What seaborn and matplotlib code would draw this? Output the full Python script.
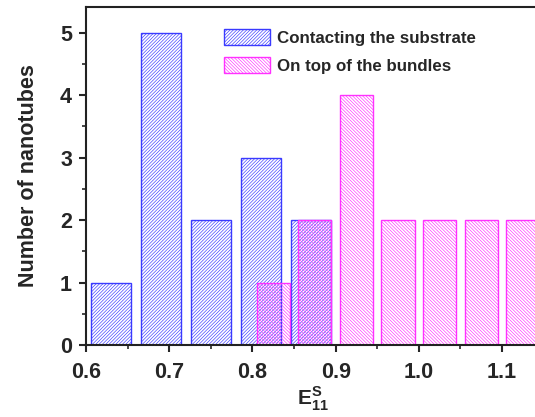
import matplotlib
matplotlib.use('Agg')
import matplotlib.pyplot as plt
import seaborn as sns
import numpy as np
from matplotlib.patches import Patch
from matplotlib.ticker import MultipleLocator

# data
substrate_e = [0.63, 0.69, 0.75, 0.81, 0.87]
substrate_n = [1, 5, 2, 3, 2]
bundle_e = [0.825, 0.875, 0.925, 0.975, 1.025, 1.075, 1.125]
bundle_n = [1, 2, 4, 2, 2, 2, 2]

blue = '#3a3aff'
magenta = '#ff30ff'
hatch_b = '/' * 10
hatch_m = '\\' * 10

sns.set_style('ticks')
plt.rcParams['font.family'] = ['Liberation Sans', 'DejaVu Sans']
plt.rcParams['font.weight'] = 'bold'
plt.rcParams['mathtext.fontset'] = 'custom'
plt.rcParams['mathtext.bf'] = 'Liberation Sans:bold'
plt.rcParams['mathtext.rm'] = 'Liberation Sans:bold'
plt.rcParams['hatch.linewidth'] = 0.45

fig = plt.figure(figsize=(5.35, 4.17), dpi=100)
ax = fig.add_axes([86 / 535, 72 / 417, 1.0 - 86 / 535 + 0.01, 338 / 417])

sns.barplot(x=substrate_e, y=substrate_n, native_scale=True, width=0.8,
            errorbar=None, ax=ax)
n_first = len(ax.patches)
sns.barplot(x=bundle_e, y=bundle_n, native_scale=True, width=0.8,
            errorbar=None, ax=ax)

for i, p in enumerate(ax.patches):
    c = blue if i < n_first else magenta
    p.set_facecolor('none')
    p.set_edgecolor(c)
    p.set_linewidth(1.0)
    p.set_hatch(hatch_b if i < n_first else hatch_m)

ax.set_xlim(0.6, 1.146)
ax.set_ylim(0, 5.41)
ax.xaxis.set_major_locator(MultipleLocator(0.1))
ax.xaxis.set_minor_locator(MultipleLocator(0.05))
ax.yaxis.set_major_locator(MultipleLocator(1))
ax.yaxis.set_minor_locator(MultipleLocator(0.5))
ax.xaxis.set_major_formatter(matplotlib.ticker.FormatStrFormatter('%.1f'))
ax.tick_params(which='major', direction='out', length=5, width=1.5,
               labelsize=15.5, top=False, right=False)
ax.tick_params(axis='x', which='major', pad=7)
ax.tick_params(axis='y', which='major', pad=5)
ax.tick_params(which='minor', direction='out', length=3, width=1.2,
               top=False, right=False)
for lab in ax.get_xticklabels() + ax.get_yticklabels():
    lab.set_fontweight('bold')

for s in ax.spines.values():
    s.set_linewidth(1.5)
    s.set_color('#222222')
ax.spines['right'].set_visible(False)

ax.set_ylabel('Number of nanotubes', fontsize=15.5, fontweight='bold', labelpad=15)
ax.set_xlabel(r'$\mathbf{E}_{\mathbf{11}}^{\mathbf{S}}$', fontsize=15, labelpad=1)

handles = [
    Patch(facecolor='none', edgecolor=blue, hatch=hatch_b, linewidth=1.0),
    Patch(facecolor='none', edgecolor=magenta, hatch=hatch_m, linewidth=1.0),
]
ax.legend(handles, ['Contacting the substrate', 'On top of the bundles'],
          loc='upper left', bbox_to_anchor=(0.27, 0.98), frameon=False,
          prop={'size': 12.2, 'weight': 'bold'}, handlelength=2.7,
          handleheight=1.1, labelspacing=0.65, handletextpad=0.45)

fig.savefig('out.png', dpi=100)
